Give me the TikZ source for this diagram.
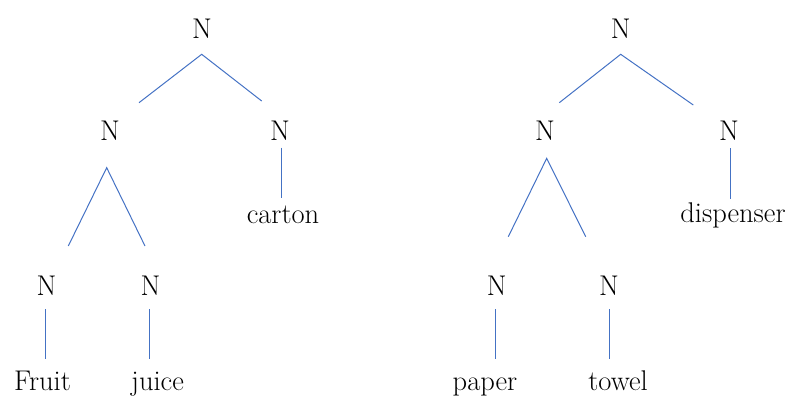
\documentclass[tikz,border=0pt]{standalone}
\definecolor{edgeblue}{HTML}{4472C4}
\tikzset{
  lbl/.style={anchor=base, inner sep=0pt, font=\fontsize{28.5}{32}\selectfont},
  edge/.style={draw=edgeblue, line width=1pt}
}
\begin{document}
\begin{tikzpicture}[x=1pt,y=-1pt]
\useasboundingbox (0,0) rectangle (795,397);
% left tree
\node[lbl] (r1) at (202,38) {N};
\node[lbl] (a1) at (110,140) {N};
\node[lbl] (b1) at (280,140) {N};
\node[lbl] (c1) at (283,223) {carton};
\node[lbl] (d1) at (46.5,295) {N};
\node[lbl] (e1) at (150.5,295) {N};
\node[lbl] (f1) at (42.5,390) {Fruit};
\node[lbl] (g1) at (157.5,390) {juice};
\coordinate (r1s) at (201.7,54.3);
\coordinate (a1n) at (139,102.7);
\coordinate (b1n) at (261.7,101);
\coordinate (b1s) at (281.5,147.7);
\coordinate (c1n) at (281.5,197.7);
\coordinate (a1s) at (106.7,167.7);
\coordinate (d1n) at (68.3,246);
\coordinate (e1n) at (145,246);
\coordinate (d1s) at (45.5,309);
\coordinate (f1n) at (45.5,359);
\coordinate (e1s) at (149.5,309);
\coordinate (g1n) at (149.5,359);
\draw[edge] (a1n) -- (r1s) -- (b1n);
\draw[edge] (b1s) -- (c1n);
\draw[edge] (d1n) -- (a1s) -- (e1n);
\draw[edge] (d1s) -- (f1n);
\draw[edge] (e1s) -- (g1n);
% right tree
\node[lbl] (r2) at (620.7,38) {N};
\node[lbl] (a2) at (545,140) {N};
\node[lbl] (b2) at (729,140) {N};
\node[lbl] (c2) at (733,222) {dispenser};
\node[lbl] (d2) at (496.7,295) {N};
\node[lbl] (e2) at (609,295) {N};
\node[lbl] (f2) at (485,390) {paper};
\node[lbl] (g2) at (618,390) {towel};
\coordinate (r2s) at (620.7,54.3);
\coordinate (a2n) at (559.3,102.7);
\coordinate (b2n) at (693.3,105);
\coordinate (b2s) at (730.5,148);
\coordinate (c2n) at (730.5,199);
\coordinate (a2s) at (546.7,158.3);
\coordinate (d2n) at (508.3,236.7);
\coordinate (e2n) at (585.7,236.7);
\coordinate (d2s) at (495.5,309);
\coordinate (f2n) at (495.5,359);
\coordinate (e2s) at (609.5,309);
\coordinate (g2n) at (609.5,359);
\draw[edge] (a2n) -- (r2s) -- (b2n);
\draw[edge] (b2s) -- (c2n);
\draw[edge] (d2n) -- (a2s) -- (e2n);
\draw[edge] (d2s) -- (f2n);
\draw[edge] (e2s) -- (g2n);
\end{tikzpicture}
\end{document}
